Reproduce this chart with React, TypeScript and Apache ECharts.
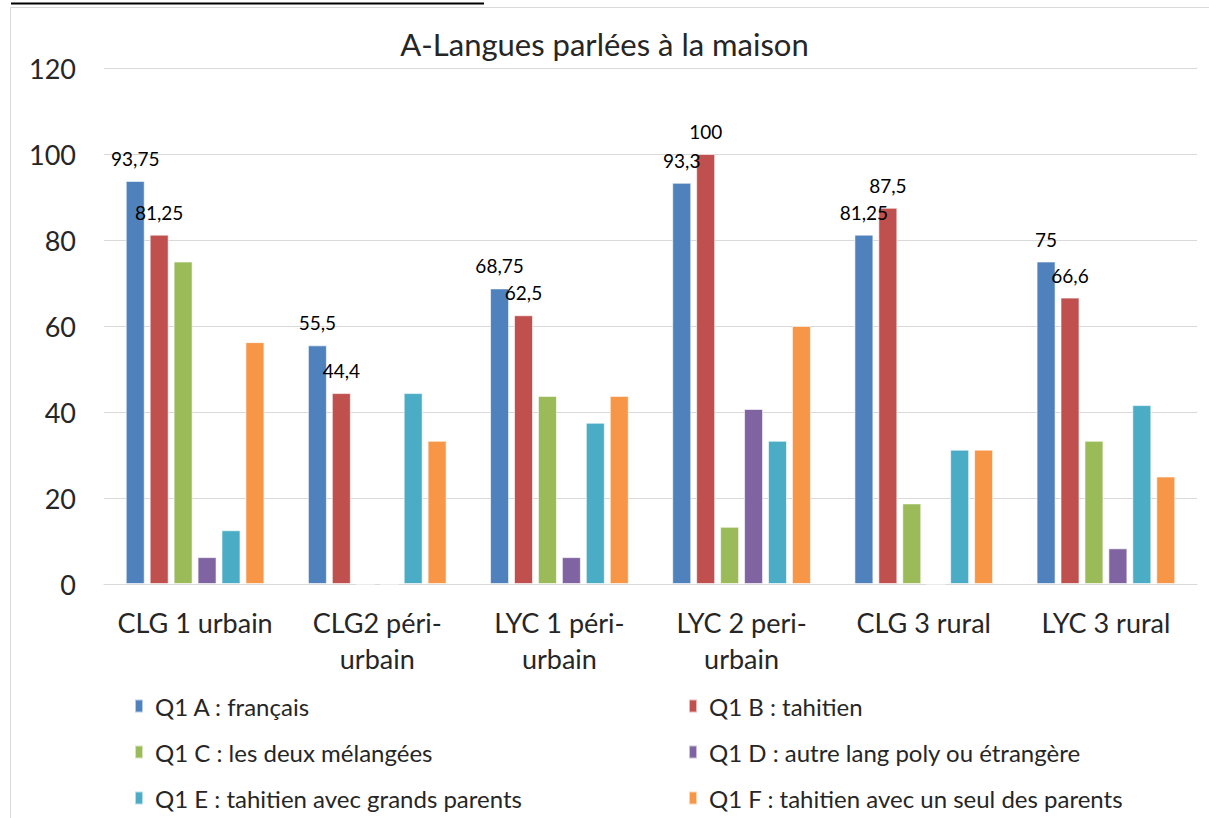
import React, { useEffect, useRef } from "react";
import * as echarts from "echarts";

const title = "A-Langues parlées à la maison";
const categories = [
  "CLG 1 urbain",
  "CLG2 péri-\nurbain",
  "LYC 1 péri-\nurbain",
  "LYC 2 peri-\nurbain",
  "CLG 3 rural",
  "LYC 3 rural",
];
const seriesNames = [
  "Q1 A : français",
  "Q1 B : tahitien",
  "Q1 C : les deux mélangées",
  "Q1 D : autre lang poly ou étrangère",
  "Q1 E : tahitien avec grands parents",
  "Q1 F : tahitien avec un seul des parents",
];
const qA = [93.75, 55.5, 68.75, 93.3, 81.25, 75];
const qB = [81.25, 44.4, 62.5, 100, 87.5, 66.6];
const qC = [75, 0, 43.75, 13.3, 18.75, 33.3];
const qD = [6.25, 0, 6.25, 40.7, 0, 8.3];
const qE = [12.5, 44.4, 37.5, 33.3, 31.25, 41.6];
const qF = [56.25, 33.3, 43.75, 60, 31.25, 25];
const seriesValues = [qA, qB, qC, qD, qE, qF];
const labelledSeries = [true, true, false, false, false, false];
const colors = ["#4F81BD", "#C0504D", "#9BBB59", "#8064A2", "#4BACC6", "#F79646"];

const FONT = "Lato";

const legendBase = {
  orient: "vertical",
  top: 694,
  padding: 0,
  itemWidth: 8,
  itemHeight: 13,
  itemGap: 22,
  icon: "rect",
  textStyle: {
    fontFamily: FONT,
    fontSize: 24,
    lineHeight: 24,
    color: "#262626",
    padding: [0, 0, 0, 7],
  },
};

export default function App() {
  const ref = useRef<HTMLDivElement>(null);
  useEffect(() => {
    if (!ref.current) return;
    const chart = echarts.init(ref.current, null, { renderer: "svg" });
    const option = {
      animation: false,
      backgroundColor: "#ffffff",
      color: colors,
      title: {
        text: title,
        left: "center",
        top: 28,
        padding: 0,
        textStyle: { fontFamily: FONT, fontSize: 31, fontWeight: "normal", color: "#262626" },
      },
      grid: { left: 104, right: 12, top: 68, bottom: 234, containLabel: false },
      legend: [
        { ...legendBase, left: 134, data: [seriesNames[0], seriesNames[2], seriesNames[4]] },
        { ...legendBase, left: 688, data: [seriesNames[1], seriesNames[3], seriesNames[5]] },
      ],
      xAxis: {
        type: "category",
        data: categories,
        axisLine: { show: true, lineStyle: { color: "#D9D9D9", width: 1 } },
        axisTick: { show: false },
        axisLabel: {
          fontFamily: FONT,
          fontSize: 27,
          color: "#262626",
          margin: 20,
          lineHeight: 36,
          interval: 0,
        },
      },
      yAxis: {
        type: "value",
        min: 0,
        max: 120,
        interval: 20,
        axisLine: { show: false },
        axisTick: { show: false },
        splitLine: { lineStyle: { color: "#D9D9D9", width: 1 } },
        axisLabel: { fontFamily: FONT, fontSize: 27, color: "#262626", margin: 28 },
      },
      graphic: [
        {
          type: "rect",
          shape: { x: 10.5, y: 7.5, width: 1400, height: 1000 },
          style: { fill: "none", stroke: "#D9D9D9", lineWidth: 1 },
          silent: true,
          z: -10,
        },
        {
          type: "line",
          shape: { x1: 11, y1: 3.5, x2: 484, y2: 3.5 },
          style: { stroke: "#000000", lineWidth: 2 },
          silent: true,
        },
      ],
      series: seriesNames.map((name, i) => ({
        name,
        type: "bar",
        data: seriesValues[i],
        barWidth: 19,
        barGap: "26%",
        itemStyle: { color: colors[i], borderColor: "rgba(255,255,255,0.6)", borderWidth: 1 },
        label: {
          show: labelledSeries[i],
          position: "top",
          distance: 13,
          fontFamily: FONT,
          fontSize: 19,
          color: "#000000",
          formatter: (p: any) => String(p.value).replace(".", ","),
        },
      })),
    };
    chart.setOption(option);
    return () => chart.dispose();
  }, []);
  return (
    <div
      ref={ref}
      style={{ position: "absolute", left: 0, top: 0, width: 1209, height: 818 }}
    />
  );
}
